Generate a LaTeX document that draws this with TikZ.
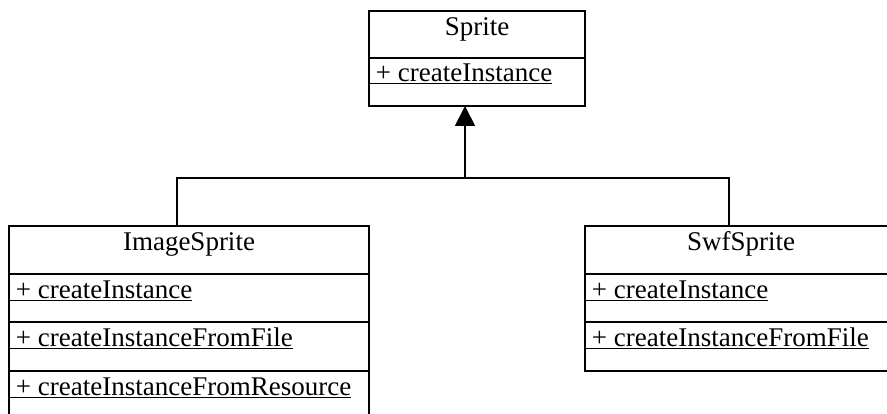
\documentclass[tikz,border=0pt]{standalone}
\usepackage{fontspec}
\setmainfont{Liberation Serif}
\usetikzlibrary{arrows.meta}
\begin{document}
\begin{tikzpicture}[x=1pt,y=1pt,
  compartment/.style={draw, line width=1.8pt, rectangle, inner sep=0pt, outer sep=0pt, anchor=north west},
  classname/.style={anchor=base, inner sep=0pt, font=\fontsize{27}{31}\selectfont},
  operation/.style={anchor=base west, inner sep=0pt, font=\fontsize{27}{31}\selectfont},
  link/.style={line width=1.8pt},
  generalization/.style={link, -{Triangle[length=20pt,width=20pt]}}]
\useasboundingbox (0,0) rectangle (887,-414);
\clip (0,0) rectangle (887,-414);

% Sprite (base class)
\node[compartment, minimum width=216pt, minimum height=47pt] (sprite) at (369,-11) {};
\node[compartment, minimum width=216pt, minimum height=48pt] (spriteops) at (sprite.south west) {};
\node[classname] (spritename) at ([yshift=-25pt]sprite.north) {Sprite};
\node[operation] (spriteop1) at ([yshift=-24pt]spriteops.north west) {\underline{\ + createInstance}};

% ImageSprite
\node[compartment, minimum width=360pt, minimum height=48pt] (image) at (9,-226) {};
\node[compartment, minimum width=360pt, minimum height=48pt] (imageops1) at (image.south west) {};
\node[compartment, minimum width=360pt, minimum height=49pt] (imageops2) at (imageops1.south west) {};
\node[compartment, minimum width=360pt, minimum height=48pt] (imageops3) at (imageops2.south west) {};
\node[classname] (imagename) at ([yshift=-25pt]image.north) {ImageSprite};
\node[operation] (imageop1) at ([yshift=-24.5pt]imageops1.north west) {\underline{\ + createInstance}};
\node[operation] (imageop2) at ([yshift=-24.5pt]imageops2.north west) {\underline{\ + createInstanceFromFile}};
\node[operation] (imageop3) at ([yshift=-24.5pt]imageops3.north west) {\underline{\ + createInstanceFromResource}};

% SwfSprite
\node[compartment, minimum width=312pt, minimum height=48pt] (swf) at (585,-226) {};
\node[compartment, minimum width=312pt, minimum height=48pt] (swfops1) at (swf.south west) {};
\node[compartment, minimum width=312pt, minimum height=49pt] (swfops2) at (swfops1.south west) {};
\node[classname] (swfname) at ([yshift=-25pt]swf.north) {SwfSprite};
\node[operation] (swfop1) at ([yshift=-24.5pt]swfops1.north west) {\underline{\ + createInstance}};
\node[operation] (swfop2) at ([yshift=-24.5pt]swfops2.north west) {\underline{\ + createInstanceFromFile}};

% Generalization: both subclasses share one arrow to Sprite
\coordinate (hub) at (465,-178);
\coordinate (leftdrop) at (177,-178);
\coordinate (rightdrop) at (729,-178);
\draw[link] (image.north -| leftdrop) -- (leftdrop) -- (rightdrop) -- (swf.north -| rightdrop);
\draw[generalization] (hub) -- (hub |- spriteops.south);
\end{tikzpicture}
\end{document}
